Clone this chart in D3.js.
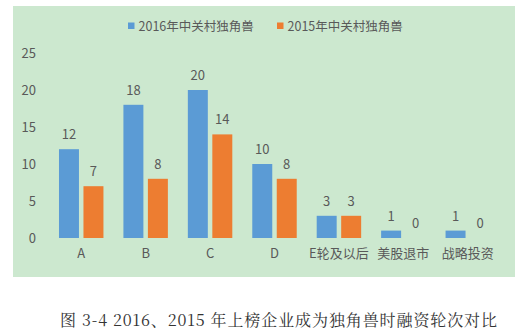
<!DOCTYPE html>
<html>
<head>
<meta charset="utf-8">
<script src="https://cdn.jsdelivr.net/npm/d3@7"></script>
<style>
  html, body { margin: 0; padding: 0; background: #ffffff; }
  svg { display: block; }
</style>
</head>
<body>
<svg id="chart" width="528" height="332"></svg>
<script>
// Financing rounds when listed companies became unicorns
const categories = ["A", "B", "C", "D", "E轮及以后", "美股退市", "战略投资"];
const seriesNames = ["2016年中关村独角兽", "2015年中关村独角兽"];
const values2016 = [12, 18, 20, 10, 3, 1, 1];
const values2015 = [7, 8, 14, 8, 3, 0, 0];
const yTicks = [0, 5, 10, 15, 20, 25];
const caption = "图 3-4 2016、2015 年上榜企业成为独角兽时融资轮次对比";

const colors = ["#5b9bd5", "#ed7d31"];
const textColor = "#595959";
const font = "'Noto Sans CJK SC', 'Noto Sans', sans-serif";

const svg = d3.select("#chart");

// chart panel
svg.append("rect")
  .attr("x", 13).attr("y", 6)
  .attr("width", 502).attr("height", 271)
  .attr("fill", "#cce8cf");

const x0 = d3.scaleBand()
  .domain(categories)
  .range([49, 500])
  .paddingInner(0.31)
  .paddingOuter(0.155);

const x1 = d3.scaleBand()
  .domain(seriesNames)
  .range([0, x0.bandwidth()])
  .paddingInner(0.184);

const y = d3.scaleLinear().domain([0, 25]).range([238, 53]);

// y axis labels (no line, no gridlines)
const yAxis = svg.append("g")
  .attr("transform", "translate(36,0)")
  .call(d3.axisLeft(y).tickValues(yTicks).tickSize(0).tickPadding(0));
yAxis.select(".domain").remove();
yAxis.selectAll("text")
  .attr("fill", textColor)
  .style("font-family", font)
  .style("font-size", "13px");

// x axis labels
const xAxis = svg.append("g")
  .attr("transform", "translate(0,248)")
  .call(d3.axisBottom(x0).tickSize(0).tickPadding(0));
xAxis.select(".domain").remove();
xAxis.selectAll("text")
  .attr("fill", textColor)
  .attr("dy", "0.75em")
  .style("font-family", font)
  .style("font-size", "13px");

const rows = categories.map((c, i) => ({
  cat: c,
  vals: [
    { s: seriesNames[0], v: values2016[i], k: 0 },
    { s: seriesNames[1], v: values2015[i], k: 1 }
  ]
}));

const groups = svg.append("g").selectAll("g")
  .data(rows)
  .join("g")
  .attr("transform", d => `translate(${x0(d.cat)},0)`);

groups.selectAll("rect")
  .data(d => d.vals)
  .join("rect")
  .attr("x", d => x1(d.s))
  .attr("y", d => y(d.v))
  .attr("width", x1.bandwidth())
  .attr("height", d => y(0) - y(d.v))
  .attr("fill", d => colors[d.k]);

groups.selectAll("text")
  .data(d => d.vals)
  .join("text")
  .attr("x", d => x1(d.s) + x1.bandwidth() / 2)
  .attr("y", d => y(d.v) - 10)
  .attr("text-anchor", "middle")
  .attr("fill", textColor)
  .style("font-family", font)
  .style("font-size", "13px")
  .text(d => d.v);

// legend
const legendX = [128, 277];
const legend = svg.append("g").selectAll("g")
  .data(seriesNames)
  .join("g")
  .attr("transform", (d, i) => `translate(${legendX[i]},0)`);
legend.append("rect")
  .attr("x", 0).attr("y", 22.5)
  .attr("width", 6.5).attr("height", 6.5)
  .attr("fill", (d, i) => colors[i]);
legend.append("text")
  .attr("x", 10.5).attr("y", 30.5)
  .attr("fill", textColor)
  .style("font-family", font)
  .style("font-size", "12.5px")
  .text(d => d);

// caption
svg.append("text")
  .attr("x", 278.5).attr("y", 326)
  .attr("text-anchor", "middle")
  .attr("fill", "#333333")
  .attr("textLength", 437)
  .attr("lengthAdjust", "spacing")
  .style("font-family", "'Noto Serif CJK SC', 'Noto Sans CJK SC', serif")
  .style("font-size", "16px")
  .text(caption);
</script>
</body>
</html>
